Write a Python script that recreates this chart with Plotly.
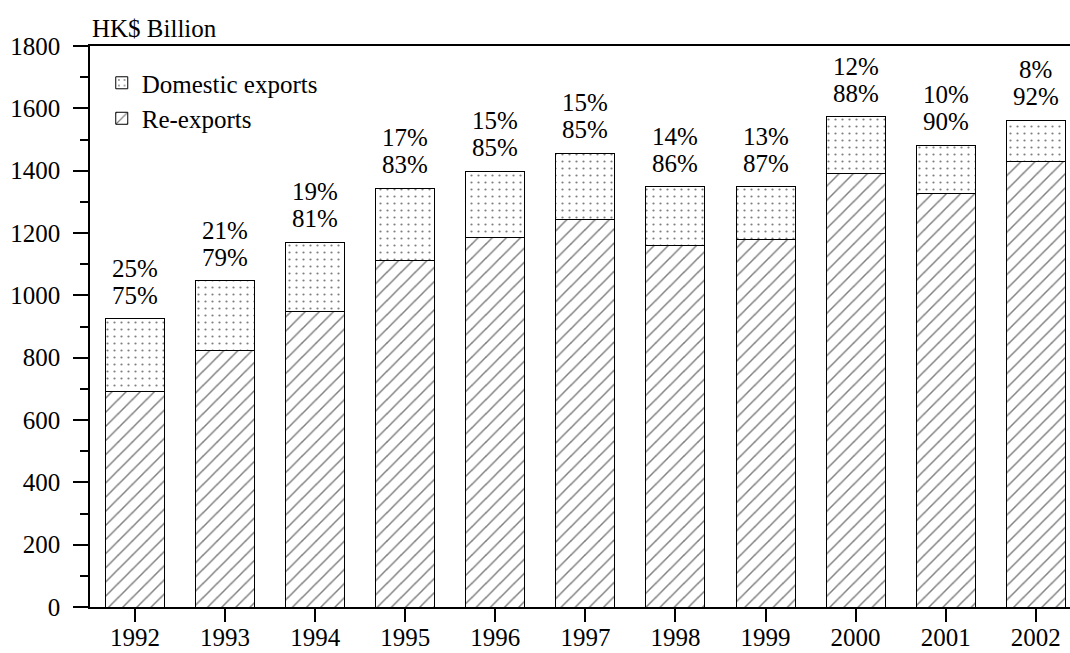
import plotly.graph_objects as go

# HK exports, HK$ billion
years = ["1992", "1993", "1994", "1995", "1996", "1997", "1998", "1999", "2000", "2001", "2002"]
re_exports = [690.8, 823.2, 947.9, 1112.5, 1185.8, 1244.5, 1159.2, 1178.4, 1391.7, 1327.5, 1431.0]
domestic = [234.1, 223.0, 222.1, 231.7, 212.2, 211.4, 188.5, 170.6, 181.0, 153.5, 131.1]
domestic_pct = ["25%", "21%", "19%", "17%", "15%", "15%", "14%", "13%", "12%", "10%", "8%"]
re_pct = ["75%", "79%", "81%", "83%", "85%", "85%", "86%", "87%", "88%", "90%", "92%"]

FONT = "Liberation Serif, Times New Roman, serif"
FS = 25
totals = [r + d for r, d in zip(re_exports, domestic)]

fig = go.Figure()

# Re-exports first so the stacked legend lists Domestic on top
fig.add_trace(go.Bar(
    x=years, y=re_exports, name="Re-exports",
    width=0.655,
    marker=dict(color="white", line=dict(color="black", width=1),
                pattern=dict(shape="/", fgcolor="black", bgcolor="white",
                             size=10, solidity=0.15)),
))
fig.add_trace(go.Bar(
    x=years, y=domestic, name="Domestic exports",
    width=0.655,
    marker=dict(color="white", line=dict(color="black", width=1),
                pattern=dict(shape=".", fgcolor="black", bgcolor="white",
                             size=7, solidity=0.08)),
))

# two-line share labels above each bar (x as category index)
for i, (tot, dp, rp) in enumerate(zip(totals, domestic_pct, re_pct)):
    fig.add_annotation(x=i, y=tot, text=rp, showarrow=False,
                       yanchor="bottom", yshift=8,
                       font=dict(family=FONT, size=FS, color="black"))
    fig.add_annotation(x=i, y=tot, text=dp, showarrow=False,
                       yanchor="bottom", yshift=35,
                       font=dict(family=FONT, size=FS, color="black"))

fig.add_annotation(xref="paper", yref="paper", x=0, y=1, text="HK$ Billion",
                   showarrow=False, xanchor="left", yanchor="bottom", yshift=2,
                   font=dict(family=FONT, size=FS, color="black"))

fig.update_layout(
    width=1070, height=653,
    barmode="stack",
    plot_bgcolor="white", paper_bgcolor="white",
    margin=dict(l=90, r=0, t=46, b=46, autoexpand=False),
    font=dict(family=FONT, size=FS, color="black"),
    showlegend=True,
    legend=dict(x=0.012, y=0.975, xanchor="left", yanchor="top",
                bgcolor="rgba(0,0,0,0)", font=dict(family=FONT, size=FS),
                itemclick=False, tracegroupgap=0),
)
fig.update_xaxes(
    type="category", range=[-0.5, 10.38],
    showline=True, linecolor="black", linewidth=1.5, mirror=True,
    ticks="outside", ticklen=13, tickcolor="black", tickwidth=1.5,
    ticklabelstandoff=-6,
    showgrid=False, zeroline=False,
)
fig.update_yaxes(
    range=[0, 1800], dtick=200,
    showline=True, linecolor="black", linewidth=1.5,
    ticks="outside", ticklen=15, tickcolor="black", tickwidth=1.5,
    minor=dict(dtick=100, ticks="outside", ticklen=8, tickcolor="black", tickwidth=1.5),
    ticklabelstandoff=8,
    showgrid=False, zeroline=False,
)

fig.write_html("out.html", config={"displayModeBar": False},
               post_script="document.body.style.margin='0';")
